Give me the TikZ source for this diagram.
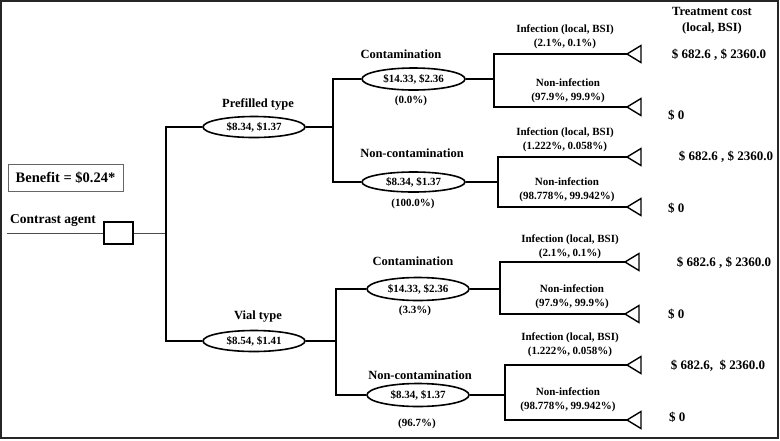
\documentclass[tikz,border=0pt]{standalone}
\usepackage{fontspec}
\setmainfont{Liberation Serif}
\usetikzlibrary{shapes.geometric}
\begin{document}
\begin{tikzpicture}[x=1pt,y=-1pt,
  every node/.style={font=\bfseries},
  oval/.style={ellipse,draw,line width=1.6pt,inner sep=0pt,minimum width=102pt,minimum height=21pt,font=\bfseries\fontsize{11}{13}\selectfont},
  lbl/.style={inner sep=0pt,font=\bfseries\fontsize{12.5}{15}\selectfont},
  pct/.style={inner sep=0pt,font=\bfseries\fontsize{11}{13}\selectfont},
  term/.style={inner sep=0pt,align=center,font=\bfseries\fontsize{11}{14}\selectfont},
  cost/.style={inner sep=0pt,font=\bfseries\fontsize{13}{15}\selectfont},
  ln/.style={line width=1.2pt},
  thk/.style={line width=1.8pt},
  tri/.style={line width=1.4pt,line join=miter}]
\useasboundingbox (0,0) rectangle (780,440);
\draw[line width=1.5pt,black!85] (1,1) rectangle (778,438);

% root
\node[lbl,font=\bfseries\fontsize{13.5}{15}\selectfont] (ca) at (53,221) {Contrast agent};
\coordinate (ca0) at (7,233);
\node[draw,line width=1.6pt,minimum width=29pt,minimum height=22pt,inner sep=0pt] (sq) at (118.5,233) {};
\draw[line width=0.8pt,black!70] (ca0) -- (sq.west);
\coordinate (j0) at (166,233);
\draw[line width=0.8pt,black!70] (sq.east) -- (j0);
\node[draw,black!60,line width=0.8pt,minimum width=115pt,minimum height=27pt,inner sep=0pt,
  text=black,font=\bfseries\fontsize{14.5}{16}\selectfont] (ben) at (65.5,177.5) {Benefit = \$0.24*};

% level 1
\node[oval] (P) at (254,127) {\$8.34, \$1.37};
\node[lbl] (Pl) at (258,104) {Prefilled type};
\node[oval] (V) at (254,341) {\$8.54, \$1.41};
\node[lbl] (Vl) at (258,317) {Vial type};
\draw[ln] (P.west) -| (j0);
\draw[ln] (V.west) -| (j0);

% prefilled branch
\coordinate (j1) at (333,127);
\coordinate (j2) at (336,341);
\draw[thk] (P.east) -- (j1);
\draw[thk] (V.east) -- (j2);
\node[oval,minimum width=103pt,minimum height=22pt] (C1) at (413.5,79) {\$14.33, \$2.36};
\node[lbl] (C1l) at (401,54) {Contamination};
\node[pct] (C1p) at (411,101) {(0.0\%)};
\node[oval,minimum width=103pt,minimum height=20pt] (N1) at (413.5,182) {\$8.34, \$1.37};
\node[lbl] (N1l) at (412,153) {Non-contamination};
\node[pct] (N1p) at (413,204) {(100.0\%)};
\draw[ln] (C1.west) -| (j1);
\draw[ln] (N1.west) -| (j1);

% vial branch
\node[oval,minimum width=102pt,minimum height=23pt] (C2) at (418,289) {\$14.33, \$2.36};
\node[lbl] (C2l) at (413,261) {Contamination};
\node[pct] (C2p) at (415,311) {(3.3\%)};
\node[oval,minimum width=102pt,minimum height=23pt] (N2) at (418,395) {\$8.34, \$1.37};
\node[lbl] (N2l) at (420,375) {Non-contamination};
\node[pct] (N2p) at (417,424) {(96.7\%)};
\draw[ln] (C2.west) -| (j2);
\draw[ln] (N2.west) -| (j2);

% chance junctions
\coordinate (k1) at (494,79);
\coordinate (k2) at (498,182);
\coordinate (k3) at (500,289);
\coordinate (k4) at (505,395);
\draw[thk] (C1.east) -- (k1);
\draw[thk] (N1.east) -- (k2);
\draw[ln] (C2.east) -- (k3);
\draw[thk] (N2.east) -- (k4);

% terminals
\foreach \n/\x/\y/\k in {a/627/54/k1,b/627/107/k1,c/627/157/k2,d/627/207/k2,e/625/262/k3,f/625/314/k3,g/627/365/k4,h/627/420/k4}{
  \coordinate (t\n) at (\x,\y);
  \draw[ln] (t\n) -| (\k);
  \draw[tri] (t\n) -- ++(14,-8.5) -- ++(0,17) -- cycle;
}

% terminal labels
\node[term] (la) at (565,37) {Infection (local, BSI)\\(2.1\%, 0.1\%)};
\node[term] (lb) at (568,91) {Non-infection\\(97.9\%, 99.9\%)};
\node[term] (lc) at (565,140) {Infection (local, BSI)\\(1.222\%, 0.058\%)};
\node[term] (ld) at (567,190) {Non-infection\\(98.778\%, 99.942\%)};
\node[term] (le) at (570,247) {Infection (local, BSI)\\(2.1\%, 0.1\%)};
\node[term] (lf) at (572,297) {Non-infection\\(97.9\%, 99.9\%)};
\node[term] (lg) at (570,345) {Infection (local, BSI)\\(1.222\%, 0.058\%)};
\node[term] (lh) at (568,400) {Non-infection\\(98.778\%, 99.942\%)};

% costs
\node[term,font=\bfseries\fontsize{12.5}{16}\selectfont] (tc) at (712,21) {Treatment cost\\(local, BSI)};
\node[cost] (ca1) at (719,55) {\$ 682.6 , \$ 2360.0};
\node[cost,anchor=west] (cb1) at (668,115) {\$ 0};
\node[cost] (cc1) at (726,157) {\$ 682.6 , \$ 2360.0};
\node[cost,anchor=west] (cd1) at (668,208) {\$ 0};
\node[cost] (ce1) at (724,263) {\$ 682.6 , \$ 2360.0};
\node[cost,anchor=west] (cf1) at (668,314) {\$ 0};
\node[cost] (cg1) at (718,366) {\$ 682.6,\ \ \$ 2360.0};
\node[cost,anchor=west] (ch1) at (669,417) {\$ 0};
\end{tikzpicture}
\end{document}
